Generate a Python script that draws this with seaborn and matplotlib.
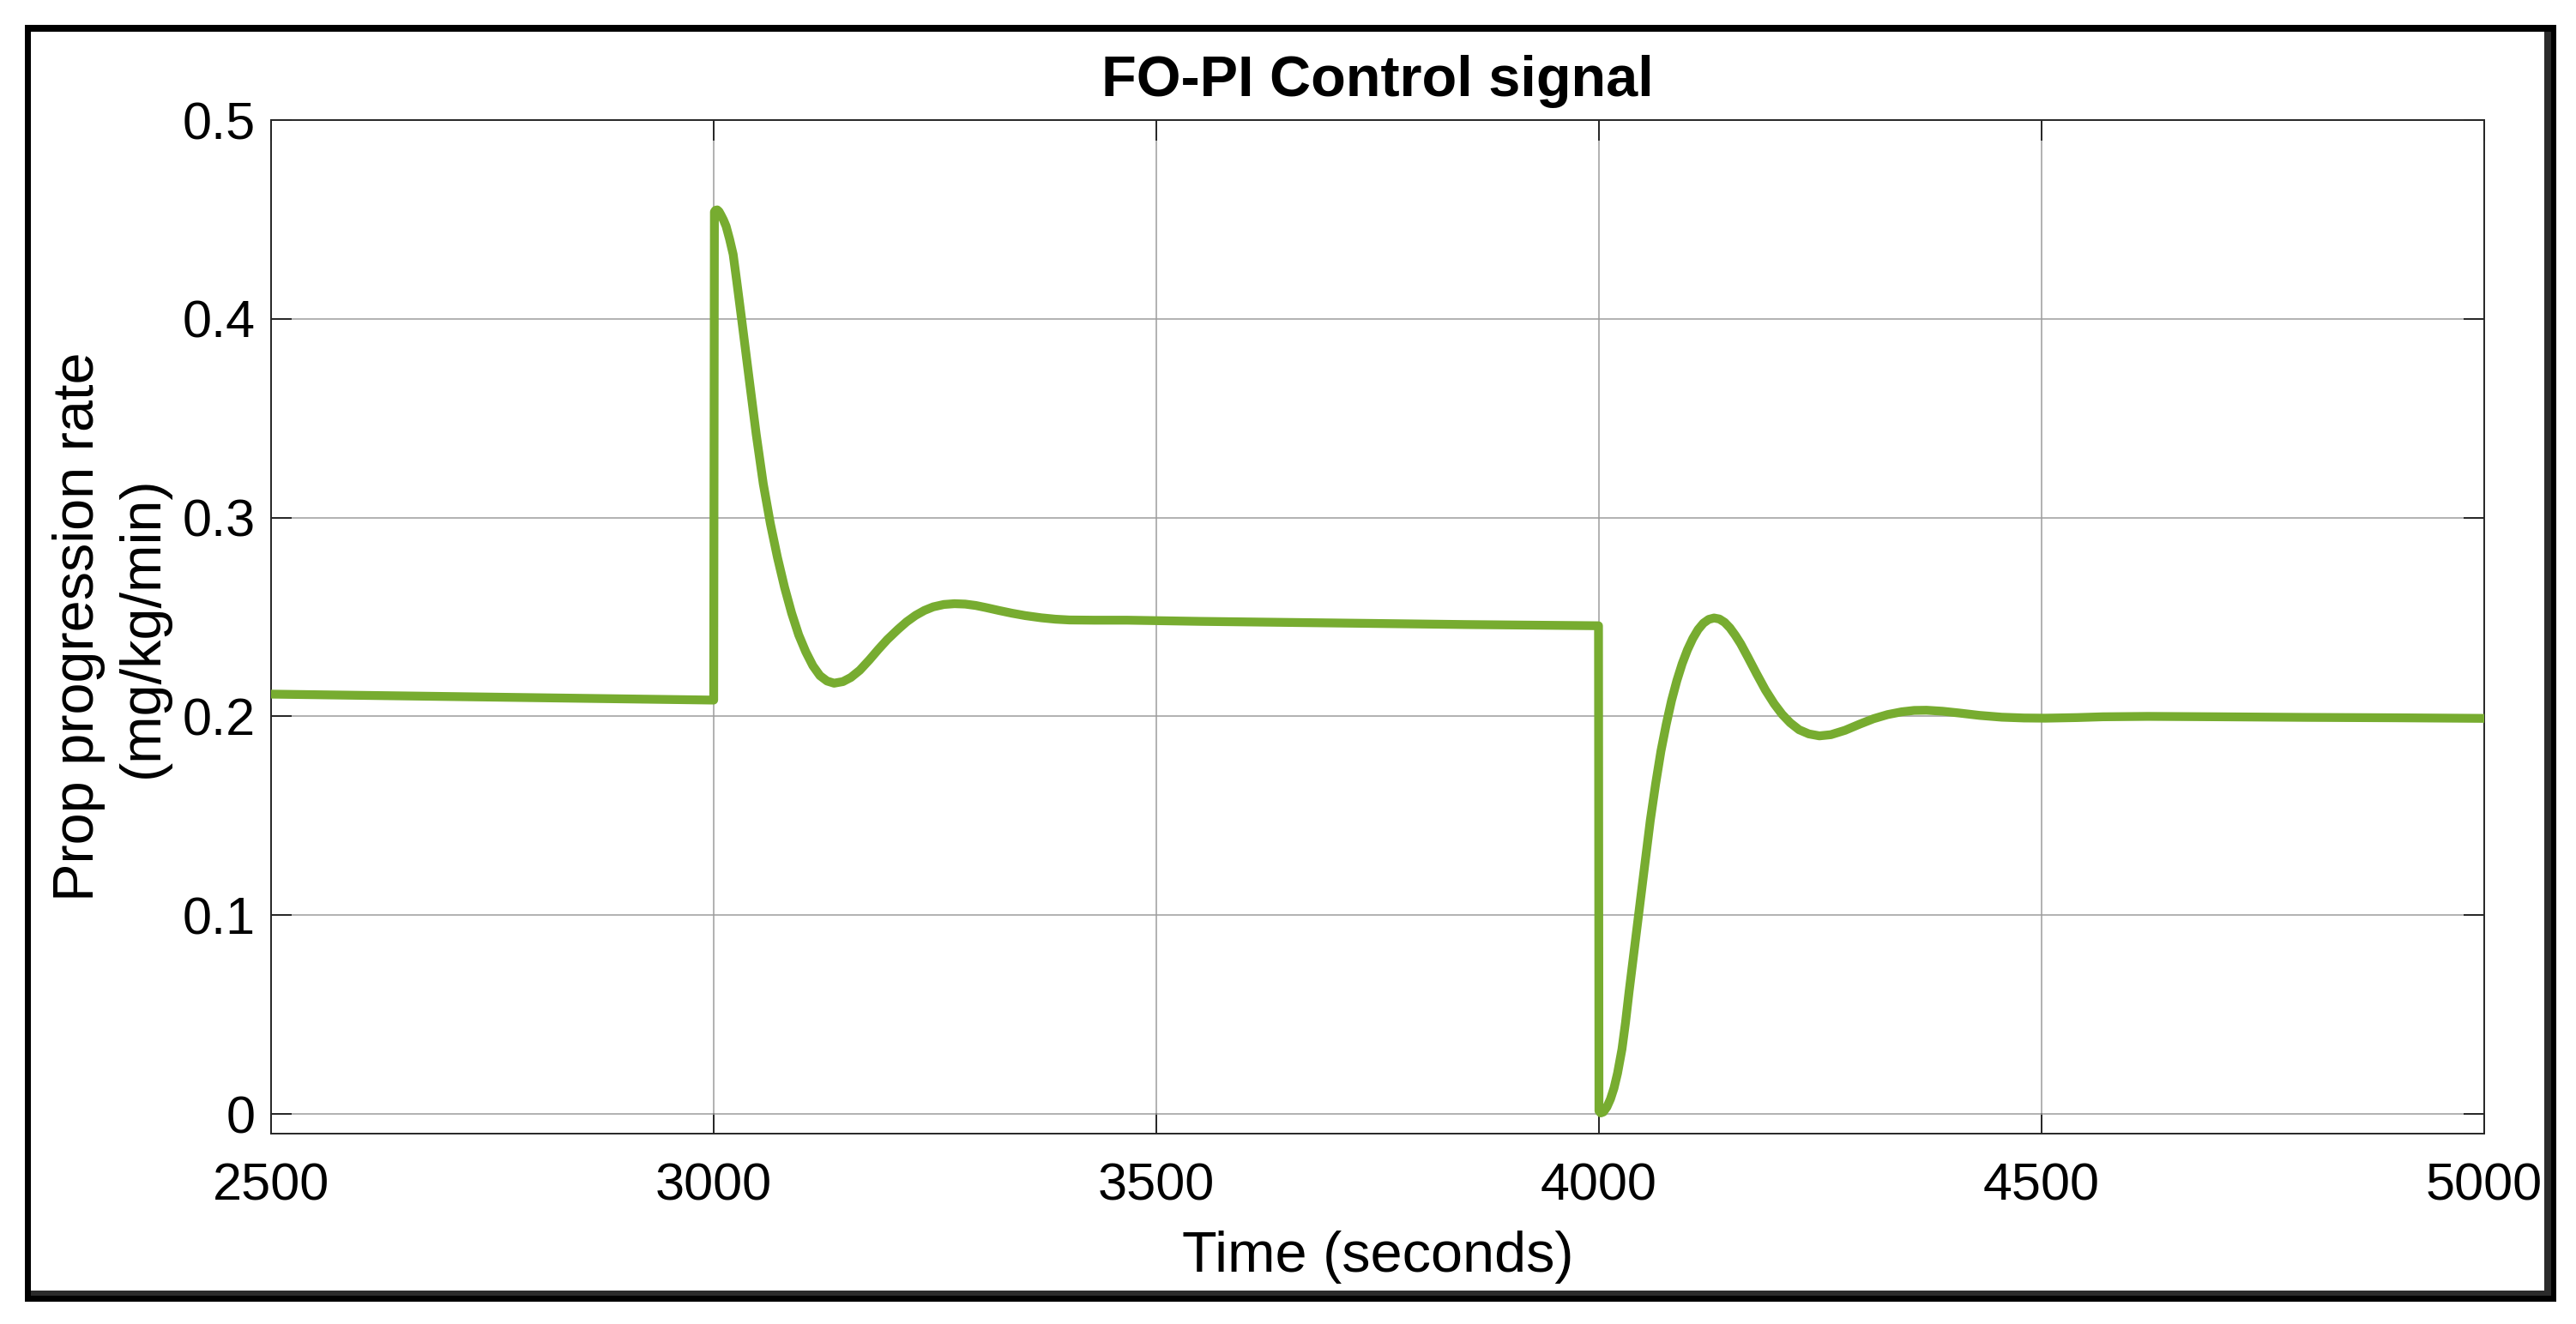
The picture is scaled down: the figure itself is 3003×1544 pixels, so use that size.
import matplotlib
matplotlib.use("Agg")
import matplotlib.pyplot as plt
from matplotlib.patches import Rectangle
import seaborn as sns
import pandas as pd

# ---------------- data ----------------
time_s = [2500, 2750, 3000,
          3000.8, 3002, 3004, 3006, 3008, 3011, 3014, 3018, 3022, 3026, 3031.5,
          3040, 3048, 3056, 3064, 3072, 3080, 3088, 3096, 3104, 3112, 3120,
          3128, 3136, 3146, 3155, 3165, 3176, 3186, 3196, 3208, 3218, 3228,
          3238, 3248, 3260, 3272, 3284, 3296, 3308, 3322, 3337, 3352, 3370,
          3386, 3402, 3430, 3467, 3550, 3700, 3850, 3999.5,
          4000, 4002, 4005, 4009, 4013, 4017, 4021, 4026, 4030, 4034, 4042,
          4050, 4058, 4064, 4070, 4076, 4082, 4088, 4094, 4100, 4106, 4112,
          4118, 4124, 4130, 4136, 4142, 4148, 4154, 4160, 4168, 4178, 4188,
          4198, 4207, 4216, 4226, 4237, 4249, 4262, 4278, 4294, 4310, 4326,
          4342, 4356, 4370, 4388, 4407, 4430, 4455, 4480, 4504, 4540, 4569,
          4620, 4700, 4800, 4900, 5000]
rate = [0.2112, 0.2097, 0.2082,
        0.4538, 0.4546, 0.4548, 0.4540, 0.4524, 0.4498, 0.4466, 0.4400, 0.4324,
        0.4190, 0.4000, 0.3700, 0.3420, 0.3170, 0.2970, 0.2800, 0.2650, 0.2520,
        0.2410, 0.2325, 0.2255, 0.2205, 0.2178, 0.2167, 0.2175, 0.2196, 0.2232,
        0.2285, 0.2337, 0.2386, 0.2437, 0.2476, 0.2508, 0.2533, 0.2551, 0.2563,
        0.2567, 0.2565, 0.2558, 0.2547, 0.2533, 0.2519, 0.2507, 0.2496, 0.2489,
        0.2485, 0.2484, 0.2484, 0.2478, 0.2470, 0.2462, 0.2456,
        0.0015, 0.0005, 0.0010, 0.0035, 0.0075, 0.0130, 0.0205, 0.0326, 0.0460,
        0.0614, 0.0902, 0.1190, 0.1477, 0.1660, 0.1825, 0.1960, 0.2080, 0.2180,
        0.2265, 0.2335, 0.2392, 0.2437, 0.2469, 0.2488, 0.2495, 0.2490, 0.2473,
        0.2445, 0.2408, 0.2366, 0.2300, 0.2215, 0.2133, 0.2063, 0.2010, 0.1968,
        0.1933, 0.1912, 0.1902, 0.1908, 0.1930, 0.1960, 0.1988, 0.2009, 0.2023,
        0.2030, 0.2031, 0.2026, 0.2017, 0.2005, 0.1996, 0.1992, 0.1991, 0.1994,
        0.1998, 0.2000, 0.1998, 0.1995, 0.1993, 0.1990]

x_ticks = [2500, 3000, 3500, 4000, 4500, 5000]
x_tick_labels = ["2500", "3000", "3500", "4000", "4500", "5000"]
y_ticks = [0, 0.1, 0.2, 0.3, 0.4, 0.5]
y_tick_labels = ["0", "0.1", "0.2", "0.3", "0.4", "0.5"]

title_text = "FO-PI Control signal"
x_label = "Time (seconds)"
y_label = "Prop progression rate\n(mg/kg/min)"

# ---------------- style ----------------
sns.set_style("ticks")
plt.rcParams["font.family"] = ["Liberation Sans", "DejaVu Sans"]

W, H = 3003, 1544
fig = plt.figure(figsize=(W / 100, H / 100), dpi=100, facecolor="white")
ax = fig.add_axes([316 / W, 1 - 1322 / H, (2896 - 316) / W, (1322 - 140) / H])

df = pd.DataFrame({"t": time_s, "v": rate})
sns.lineplot(data=df, x="t", y="v", ax=ax, sort=False, estimator=None,
             color="#77AC30", linewidth=7.4, zorder=3)

ax.set_xlim(2500, 5000)
ax.set_ylim(-0.0099, 0.5)
ax.set_xticks(x_ticks)
ax.set_xticklabels(x_tick_labels)
ax.set_yticks(y_ticks)
ax.set_yticklabels(y_tick_labels)

ax.grid(True, color="#9c9c9c", linewidth=1.1, zorder=0)
ax.set_axisbelow(True)
for s in ax.spines.values():
    s.set_visible(True)
    s.set_color("#262626")
    s.set_linewidth(1.4)

ax.tick_params(axis="both", which="major", direction="in", length=17, width=1.4,
               color="#262626", top=True, right=True, labelsize=44,
               labelcolor="black")
ax.tick_params(axis="x", pad=24)
ax.tick_params(axis="y", pad=13)

ax.set_xlabel(x_label, fontsize=48, labelpad=16, color="black")
ax.set_ylabel(y_label, fontsize=48, labelpad=11, color="black", linespacing=1.25)
ax.set_title(title_text, fontsize=48, fontweight="bold", pad=20, color="black")


# ---------------- outer frame with shadow ----------------
def strip(x0, y0, x1, y1, color):
    fig.add_artist(Rectangle((x0 / W, 1 - y1 / H), (x1 - x0) / W, (y1 - y0) / H,
                             transform=fig.transFigure, facecolor=color,
                             edgecolor="none", zorder=10))

strip(29, 29, 2980, 37, "black")        # top
strip(29, 29, 36, 1518, "black")        # left
strip(2966, 37, 2974, 1505, "#2a2a2a")  # right inner (shadow)
strip(2974, 29, 2980, 1518, "black")    # right outer
strip(36, 1505, 2974, 1511, "#2a2a2a")  # bottom inner (shadow)
strip(29, 1511, 2980, 1518, "black")    # bottom outer

fig.savefig("out.png", dpi=100, facecolor="white")
